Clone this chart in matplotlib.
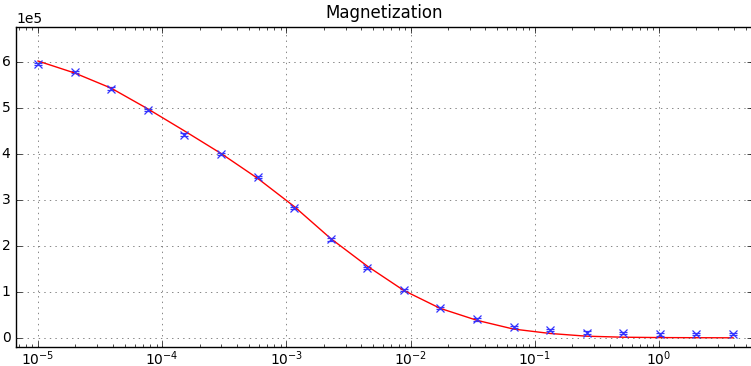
import numpy as np
import matplotlib
matplotlib.use('Agg')
import matplotlib.pyplot as plt

plt.style.use('classic')

# field values (log scale) and measured magnetization
field = [1.00e-5, 1.97e-5, 3.88e-5, 7.65e-5, 1.51e-4, 2.97e-4, 5.85e-4,
         1.15e-3, 2.27e-3, 4.47e-3, 8.80e-3, 1.73e-2, 3.42e-2, 6.73e-2,
         0.133, 0.261, 0.515, 1.01, 2.00, 3.94]
magn = [5.96e5, 5.78e5, 5.42e5, 4.96e5, 4.42e5, 4.00e5, 3.49e5, 2.83e5,
        2.14e5, 1.52e5, 1.035e5, 0.65e5, 0.40e5, 0.24e5, 0.165e5, 0.115e5,
        0.10e5, 0.072e5, 0.078e5, 0.087e5]
magn_err = [2500] * 20
# fitted curve at the same points
fit = [6.02e5, 5.76e5, 5.43e5, 4.98e5, 4.50e5, 4.01e5, 3.47e5, 2.86e5,
       2.16e5, 1.56e5, 1.03e5, 0.64e5, 0.38e5, 0.19e5, 0.094e5, 0.035e5,
       0.013e5, 0.005e5, 0.002e5, 0.0]

fig = plt.figure(figsize=(7.51, 3.66), dpi=100, facecolor='white')
ax = fig.add_axes([16/751, 1 - 347/366, 737/751, 320/366])

ax.errorbar(field, magn, yerr=magn_err, fmt='x', color='#3333ff',
            capsize=3, mew=0.9, ms=6, elinewidth=0.9)
ax.plot(field, fit, 'r-', lw=1)

ax.set_xscale('log')
ax.set_xlim(6.65e-6, 5.7)
ax.set_ylim(-0.2e5, 6.76e5)
ax.ticklabel_format(axis='y', style='sci', scilimits=(0, 0))

ax.set_title('Magnetization', fontsize=12, y=1.005)
ax.tick_params(labelsize=10)
ax.tick_params(axis='x', pad=2)
ax.yaxis.get_offset_text().set_fontsize(10)
ax.grid(True, color='#555555', linestyle=':')

fig.savefig('out.png', dpi=100, facecolor='white')
